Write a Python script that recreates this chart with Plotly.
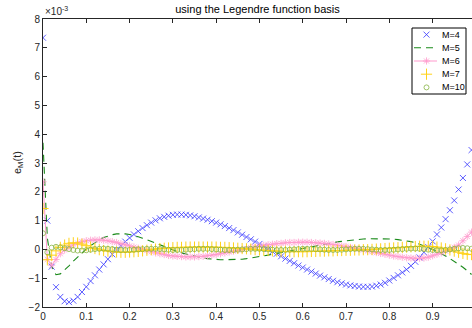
import plotly.graph_objects as go

# ---------------- data (values in units of 1e-3) ----------------
t = [0.00, 0.01, 0.02, 0.03, 0.04, 0.05, 0.06, 0.07, 0.08, 0.09,
     0.10, 0.11, 0.12, 0.13, 0.14, 0.15, 0.16, 0.17, 0.18, 0.19,
     0.20, 0.21, 0.22, 0.23, 0.24, 0.25, 0.26, 0.27, 0.28, 0.29,
     0.30, 0.31, 0.32, 0.33, 0.34, 0.35, 0.36, 0.37, 0.38, 0.39,
     0.40, 0.41, 0.42, 0.43, 0.44, 0.45, 0.46, 0.47, 0.48, 0.49,
     0.50, 0.51, 0.52, 0.53, 0.54, 0.55, 0.56, 0.57, 0.58, 0.59,
     0.60, 0.61, 0.62, 0.63, 0.64, 0.65, 0.66, 0.67, 0.68, 0.69,
     0.70, 0.71, 0.72, 0.73, 0.74, 0.75, 0.76, 0.77, 0.78, 0.79,
     0.80, 0.81, 0.82, 0.83, 0.84, 0.85, 0.86, 0.87, 0.88, 0.89,
     0.90, 0.91, 0.92, 0.93, 0.94, 0.95, 0.96, 0.97, 0.98, 0.99]

e_M4 = [7.35, 1.00, -0.60, -1.31, -1.65, -1.80, -1.83, -1.78, -1.65, -1.48,
        -1.30, -1.10, -0.90, -0.70, -0.52, -0.34, -0.17, -0.02, 0.13, 0.27,
        0.40, 0.52, 0.63, 0.74, 0.84, 0.93, 1.01, 1.08, 1.13, 1.17,
        1.20, 1.21, 1.21, 1.20, 1.18, 1.15, 1.11, 1.07, 1.03, 0.98,
        0.93, 0.87, 0.81, 0.74, 0.67, 0.59, 0.51, 0.43, 0.35, 0.27,
        0.19, 0.10, 0.02, -0.07, -0.15, -0.24, -0.32, -0.40, -0.48, -0.56,
        -0.63, -0.70, -0.77, -0.84, -0.91, -0.97, -1.03, -1.09, -1.14, -1.18,
        -1.22, -1.25, -1.27, -1.29, -1.30, -1.30, -1.29, -1.26, -1.22, -1.16,
        -1.08, -0.99, -0.90, -0.80, -0.70, -0.57, -0.43, -0.28, -0.10, 0.08,
        0.28, 0.52, 0.76, 1.05, 1.36, 1.70, 2.08, 2.48, 2.95, 3.45]

e_M5 = [3.70, 0.40, -0.60, -0.88, -0.85, -0.72, -0.57, -0.41, -0.26, -0.12,
        0.01, 0.13, 0.24, 0.33, 0.41, 0.47, 0.51, 0.54, 0.55, 0.54,
        0.52, 0.49, 0.44, 0.39, 0.33, 0.27, 0.21, 0.15, 0.09, 0.03,
        -0.02, -0.07, -0.12, -0.16, -0.20, -0.24, -0.27, -0.30, -0.32, -0.34,
        -0.35, -0.36, -0.36, -0.36, -0.36, -0.35, -0.34, -0.32, -0.30, -0.28,
        -0.26, -0.23, -0.20, -0.17, -0.14, -0.11, -0.08, -0.05, -0.02, 0.01,
        0.04, 0.07, 0.10, 0.13, 0.16, 0.19, 0.21, 0.24, 0.26, 0.28,
        0.30, 0.32, 0.33, 0.35, 0.36, 0.37, 0.37, 0.38, 0.38, 0.37,
        0.37, 0.36, 0.34, 0.32, 0.30, 0.27, 0.23, 0.18, 0.13, 0.07,
        0.00, -0.07, -0.15, -0.23, -0.32, -0.41, -0.51, -0.62, -0.74, -0.87]

e_M6 = [2.35, -0.35, -0.55, -0.35, -0.15, -0.02, 0.08, 0.16, 0.22, 0.27,
        0.30, 0.32, 0.33, 0.33, 0.32, 0.30, 0.27, 0.24, 0.20, 0.16,
        0.12, 0.08, 0.04, 0.00, -0.04, -0.08, -0.12, -0.15, -0.18, -0.21,
        -0.23, -0.24, -0.25, -0.26, -0.26, -0.26, -0.25, -0.24, -0.22, -0.20,
        -0.18, -0.15, -0.12, -0.09, -0.06, -0.03, 0.00, 0.03, 0.06, 0.09,
        0.11, 0.14, 0.16, 0.18, 0.20, 0.21, 0.23, 0.24, 0.24, 0.25,
        0.25, 0.25, 0.24, 0.23, 0.22, 0.21, 0.19, 0.17, 0.15, 0.12,
        0.10, 0.07, 0.04, 0.01, -0.02, -0.05, -0.08, -0.11, -0.14, -0.17,
        -0.20, -0.23, -0.25, -0.27, -0.29, -0.30, -0.31, -0.31, -0.30, -0.27,
        -0.22, -0.17, -0.12, -0.06, 0.00, 0.07, 0.15, 0.30, 0.45, 0.60]

e_M7 = [1.42, -0.36, -0.20, -0.05, 0.07, 0.15, 0.21, 0.23, 0.22, 0.18,
        0.13, 0.08, 0.03, -0.01, -0.04, -0.06, -0.08, -0.09, -0.10, -0.10,
        -0.09, -0.08, -0.07, -0.05, -0.03, -0.01, 0.01, 0.03, 0.04, 0.05,
        0.06, 0.07, 0.07, 0.08, 0.08, 0.08, 0.08, 0.08, 0.08, 0.08,
        0.08, 0.07, 0.07, 0.06, 0.05, 0.04, 0.03, 0.02, 0.01, -0.01,
        -0.02, -0.03, -0.04, -0.05, -0.06, -0.07, -0.07, -0.08, -0.08, -0.08,
        -0.08, -0.08, -0.07, -0.07, -0.06, -0.06, -0.05, -0.05, -0.04, -0.04,
        -0.03, -0.03, -0.02, -0.02, -0.01, -0.01, 0.00, 0.01, 0.02, 0.03,
        0.04, 0.05, 0.06, 0.07, 0.08, 0.09, 0.10, 0.11, 0.11, 0.11,
        0.10, 0.08, 0.05, 0.02, -0.02, -0.06, -0.10, -0.14, -0.17, -0.18]

e_M10 = [0.56, -0.10, 0.06, 0.09, 0.07, 0.04, 0.01, -0.02, -0.04, -0.04,
         -0.03, -0.01, 0.01, 0.02, 0.03, 0.02, 0.01, -0.01, -0.02, -0.02,
         -0.02, -0.01, 0.00, 0.01, 0.02, 0.02, 0.02, 0.01, 0.00, -0.01,
         -0.02, -0.02, -0.02, -0.01, 0.00, 0.01, 0.02, 0.02, 0.02, 0.01,
         0.00, -0.01, -0.02, -0.02, -0.02, -0.01, 0.00, 0.01, 0.02, 0.02,
         0.02, 0.01, 0.00, -0.01, -0.02, -0.02, -0.02, -0.01, 0.00, 0.01,
         0.02, 0.02, 0.02, 0.01, 0.00, -0.01, -0.02, -0.02, -0.02, -0.01,
         0.00, 0.01, 0.02, 0.02, 0.02, 0.01, 0.00, -0.01, -0.02, -0.02,
         -0.02, -0.01, 0.00, 0.01, 0.02, 0.03, 0.03, 0.02, 0.01, -0.01,
         -0.02, -0.03, -0.03, -0.02, 0.00, 0.02, 0.04, 0.05, 0.04, 0.02]

series_names = ["M=4", "M=5", "M=6", "M=7", "M=10"]
x_ticks = [0, 0.1, 0.2, 0.3, 0.4, 0.5, 0.6, 0.7, 0.8, 0.9]
x_ticklabels = ["0", "0.1", "0.2", "0.3", "0.4", "0.5", "0.6", "0.7", "0.8", "0.9"]
y_ticks = [-2, -1, 0, 1, 2, 3, 4, 5, 6, 7, 8]

# ---------------- styles ----------------
BLUE = "#3333FF"
GREEN = "#1A8A1A"
PINK = "#FF9ACD"
YELLOW = "#FFD21A"
LGREEN = "#86B443"
AXC = "#262626"
FONT = "Liberation Sans, Arial, Helvetica, sans-serif"
MLW = 0.8

fig = go.Figure()

fig.add_trace(go.Scatter(x=t, y=e_M4, mode="markers", name=series_names[0],
                         marker=dict(symbol="x-thin-open", size=6, color=BLUE,
                                     line=dict(color=BLUE, width=MLW))))
fig.add_trace(go.Scatter(x=t, y=e_M5, mode="lines", name=series_names[1],
                         line=dict(color=GREEN, width=1.1, dash="7px,5px")))
fig.add_trace(go.Scatter(x=t, y=e_M6, mode="lines+markers", name=series_names[2],
                         line=dict(color=PINK, width=1),
                         marker=dict(symbol="asterisk-open", size=6, color=PINK,
                                     line=dict(color=PINK, width=MLW))))
fig.add_trace(go.Scatter(x=t, y=e_M7, mode="markers", name=series_names[3],
                         marker=dict(symbol="cross-thin-open", size=8, color=YELLOW,
                                     line=dict(color=YELLOW, width=1))))
fig.add_trace(go.Scatter(x=t, y=e_M10, mode="markers", name=series_names[4],
                         marker=dict(symbol="circle-open", size=5, color=LGREEN,
                                     line=dict(color=LGREEN, width=MLW))))

# ---------------- manual legend (pixel-space overlay axes) ----------------
leg_left, leg_right, leg_top, leg_bottom = 412, 466, 28, 94
row_h = (leg_bottom - leg_top) / 5.0
sample_x0, sample_x1, sample_xc, text_x = 414, 437, 426.5, 440
rows = [leg_top + row_h * (i + 0.5) for i in range(5)]

fig.add_shape(type="rect", xref="x2", yref="y2", x0=leg_left, x1=leg_right,
              y0=leg_top, y1=leg_bottom, line=dict(color="#000000", width=1),
              fillcolor="white", layer="below")

fig.add_trace(go.Scatter(x=[sample_xc], y=[rows[0]], xaxis="x2", yaxis="y2", mode="markers",
                         showlegend=False, hoverinfo="skip", cliponaxis=False,
                         marker=dict(symbol="x-thin-open", size=6, color=BLUE, line=dict(color=BLUE, width=MLW))))
fig.add_trace(go.Scatter(x=[sample_x0, sample_x1], y=[rows[1], rows[1]], xaxis="x2", yaxis="y2",
                         mode="lines", showlegend=False, hoverinfo="skip", cliponaxis=False,
                         line=dict(color=GREEN, width=1.1, dash="7px,5px")))
fig.add_trace(go.Scatter(x=[sample_x0, sample_x1], y=[rows[2], rows[2]], xaxis="x2", yaxis="y2",
                         mode="lines", showlegend=False, hoverinfo="skip", cliponaxis=False,
                         line=dict(color=PINK, width=1)))
fig.add_trace(go.Scatter(x=[sample_xc], y=[rows[2]], xaxis="x2", yaxis="y2", mode="markers",
                         showlegend=False, hoverinfo="skip", cliponaxis=False,
                         marker=dict(symbol="asterisk-open", size=6, color=PINK, line=dict(color=PINK, width=MLW))))
fig.add_trace(go.Scatter(x=[sample_xc], y=[rows[3]], xaxis="x2", yaxis="y2", mode="markers",
                         showlegend=False, hoverinfo="skip", cliponaxis=False,
                         marker=dict(symbol="cross-thin-open", size=8, color=YELLOW, line=dict(color=YELLOW, width=1))))
fig.add_trace(go.Scatter(x=[sample_xc], y=[rows[4]], xaxis="x2", yaxis="y2", mode="markers",
                         showlegend=False, hoverinfo="skip", cliponaxis=False,
                         marker=dict(symbol="circle-open", size=5, color=LGREEN, line=dict(color=LGREEN, width=MLW))))

annotations = []
for name, ry in zip(series_names, rows):
    annotations.append(dict(x=text_x, y=ry, xref="x2", yref="y2", text=name, showarrow=False,
                            xanchor="left", yanchor="middle", font=dict(size=9, color="#000000", family=FONT)))

annotations.append(dict(x=0, y=1, xref="paper", yref="paper", text="×10<sup>-3</sup>",
                        showarrow=False, xanchor="left", yanchor="bottom", xshift=0, yshift=0,
                        font=dict(size=10, color=AXC, family=FONT)))
annotations.append(dict(x=0, y=0.5, xref="paper", yref="paper", text="e<sub>M</sub>(t)",
                        showarrow=False, textangle=-90, xanchor="center", yanchor="middle",
                        xshift=-25, font=dict(size=11, color=AXC, family=FONT)))

fig.update_layout(
    width=472, height=328,
    margin=dict(l=43, r=0, t=19, b=21),
    paper_bgcolor="white", plot_bgcolor="white",
    showlegend=False,
    font=dict(family=FONT, size=10, color=AXC),
    title=dict(text="using the Legendre function basis", x=0.5, xref="paper", xanchor="center",
               y=1 - 9 / 328, yref="container", yanchor="middle",
               font=dict(size=11, color="#000000", family=FONT)),
    xaxis=dict(range=[0, 0.991], tickvals=x_ticks, ticktext=x_ticklabels,
               ticks="inside", ticklen=4, tickcolor=AXC, showline=True, linecolor=AXC,
               linewidth=1, mirror="ticks", showgrid=False, zeroline=False,
               tickfont=dict(size=10, color=AXC)),
    yaxis=dict(range=[-2, 8], tickvals=y_ticks, ticks="inside", ticklen=4, tickcolor=AXC,
               showline=True, linecolor=AXC, linewidth=1, mirror=False, showgrid=False,
               zeroline=False, tickfont=dict(size=10, color=AXC)),
    xaxis2=dict(overlaying="x", range=[43, 472], visible=False, anchor="y2", fixedrange=True),
    yaxis2=dict(overlaying="y", range=[307, 19], visible=False, anchor="x2", fixedrange=True),
    annotations=annotations,
)

fig.write_html("out.html")
